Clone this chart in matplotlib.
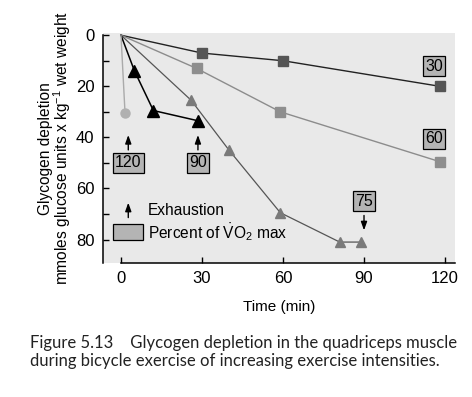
import matplotlib.pyplot as plt
from matplotlib.patches import Rectangle

plt.rcParams['font.family'] = ['Liberation Sans', 'DejaVu Sans']
plt.rcParams['mathtext.fontset'] = 'custom'
plt.rcParams['mathtext.rm'] = 'Liberation Sans'
plt.rcParams['mathtext.it'] = 'Liberation Sans:italic'

# glycogen depletion (mmol glucose units / kg wet wt) vs time (min)
t30 = [0, 30, 60, 118]
g30 = [0, 7, 10, 20]
t60 = [0, 28, 59, 118]
g60 = [0, 13, 30, 49.5]
t75 = [0, 26, 40, 59, 81, 89]
g75 = [0, 25.5, 45, 69.5, 81, 81]
t90 = [0, 5, 12, 28.5]
g90 = [0, 14, 29.5, 33.5]
t120 = [0, 1.5]
g120 = [0, 30.5]

# intensity labels (% VO2 max): text, x, y
labels = ['30', '60', '120', '90', '75']
label_x = [116, 116, 2.7, 28.5, 90]
label_y = [12.2, 40.5, 50, 50, 65]

xticks = [0, 30, 60, 90, 120]
yticks = [0, 20, 40, 60, 80]

fig = plt.figure(figsize=(4.72, 3.97), dpi=100)
ax = fig.add_axes([0.218, 0.3375, 0.746, 0.579])
ax.set_facecolor('#e9e9e9')

# first point (origin) is drawn without a marker
ax.plot(t30, g30, color='#222222', lw=1.0, marker='s', ms=7, mfc='#555555', mec='#555555', markevery=slice(1, None))
ax.plot(t60, g60, color='#8c8c8c', lw=1.0, marker='s', ms=7, mfc='#8e8e8e', mec='#8e8e8e', markevery=slice(1, None))
ax.plot(t75, g75, color='#555555', lw=0.9, marker='^', ms=7, mfc='#7a7a7a', mec='#7a7a7a', markevery=slice(1, None))
ax.plot(t90, g90, color='black', lw=1.1, marker='^', ms=8, mfc='black', mec='black', markevery=slice(1, None))
ax.plot(t120, g120, color='#aaaaaa', lw=1.0, marker='o', ms=6.5, mfc='#b0b0b0', mec='#b0b0b0', markevery=slice(1, None))

box = dict(boxstyle='square,pad=0.15', fc='#b4b4b4', ec='black', lw=0.9)
for s, x, y in zip(labels, label_x, label_y):
    ax.text(x, y, s, ha='center', va='center', fontsize=11.5, bbox=box)

arrow = dict(arrowstyle='-|>,head_length=0.5,head_width=0.18', color='black', lw=1.0)
# exhaustion arrows
ax.annotate('', xy=(2.7, 38), xytext=(2.7, 46), arrowprops=arrow)
ax.annotate('', xy=(28.5, 38), xytext=(28.5, 46), arrowprops=arrow)
ax.annotate('', xy=(90, 77.5), xytext=(90, 69.5), arrowprops=arrow)

# legend
ax.annotate('', xy=(2.7, 64.5), xytext=(2.7, 72.5), arrowprops=arrow)
ax.text(10, 68.8, 'Exhaustion', fontsize=11.2, va='center')
ax.add_patch(Rectangle((-3, 74), 11, 6, fc='#b4b4b4', ec='black', lw=0.9))
ax.text(10, 77, r'Percent of $\dot{\mathrm{V}}\mathrm{O}_2$ max', fontsize=11.2, va='center')

ax.set_xlim(-6.7, 123.7)
ax.set_ylim(89.2, -0.8)
ax.set_xticks(xticks)
ax.set_yticks(yticks)
ax.set_yticks([10, 30, 50, 70], minor=True)
ax.tick_params(axis='both', direction='in', length=4, width=1, labelsize=12)
ax.tick_params(axis='y', which='minor', direction='in', length=4, width=1)
ax.tick_params(axis='y', pad=6)
ax.tick_params(axis='x', pad=6)
for side in ['top', 'right']:
    ax.spines[side].set_visible(False)
ax.spines['left'].set_bounds(0, 89.2)
ax.spines['bottom'].set_bounds(0, 123.7)
ax.spines['left'].set_linewidth(1.1)
ax.spines['bottom'].set_linewidth(1.1)

ax.set_xlabel('Time (min)', fontsize=11, labelpad=10)
ax.set_ylabel('Glycogen depletion\nmmoles glucose units x kg$^{-1}$ wet weight',
              fontsize=11.2, linespacing=0.9)
ax.yaxis.set_label_coords(-30 / 352, 0.5)

fig.text(30 / 472, 1 - 343 / 397,
         'Figure 5.13    Glycogen depletion in the quadriceps muscle',
         fontsize=12, family='Lato', va='center', color='#222222')
fig.text(30 / 472, 1 - 361 / 397,
         'during bicycle exercise of increasing exercise intensities.',
         fontsize=12, family='Lato', va='center', color='#222222')

fig.savefig('out.png', dpi=100)
